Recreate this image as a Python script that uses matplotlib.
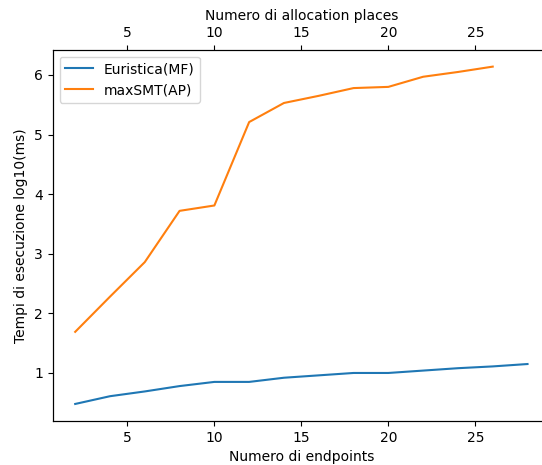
import numpy as np
import matplotlib
matplotlib.use('Agg')
import matplotlib.pyplot as plt

# data
endpoints = [2, 4, 6, 8, 10, 12, 14, 16, 18, 20, 22, 24, 26, 28]
euristica_mf = [0.48, 0.61, 0.69, 0.78, 0.85, 0.85, 0.92, 0.96, 1.00, 1.00, 1.04, 1.08, 1.11, 1.15]
places = [2, 4, 6, 8, 10, 12, 14, 16, 18, 20, 22, 24, 26]
maxsmt_ap = [1.69, 2.28, 2.86, 3.72, 3.81, 5.21, 5.53, 5.65, 5.78, 5.80, 5.97, 6.05, 6.14]

fig = plt.figure(figsize=(5.42, 4.65), dpi=100)
ax = fig.add_axes([0.097, 0.095, 0.918, 0.798])

ax.plot(endpoints, euristica_mf, label='Euristica(MF)')
ax.plot(places, maxsmt_ap, label='maxSMT(AP)')
ax.set_xlabel('Numero di endpoints')
ax.set_ylabel('Tempi di esecuzione log10(ms)')
ax.legend(loc='upper left')

# top axis for allocation places
ax2 = ax.twiny()
ax2.set_xlim(ax.get_xlim())
ax2.set_xlabel('Numero di allocation places')

fig.savefig('out.png', dpi=100)
